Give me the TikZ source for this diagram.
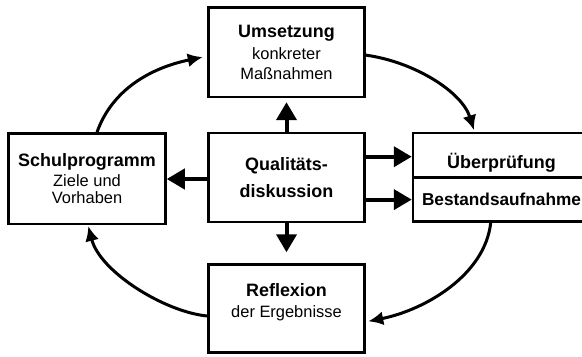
\documentclass[tikz,border=0pt]{standalone}
\usepackage{fontspec}
\setmainfont{Liberation Sans}
\usetikzlibrary{arrows.meta,calc}
\newcommand\boxtitle[1]{{\bfseries\fontsize{18}{20}\selectfont #1}}
\begin{document}
\begin{tikzpicture}[x=1bp,y=-1bp,
  box/.style={draw, line width=2.5bp, minimum width=156bp, inner sep=0pt,
    align=center, font=\fontsize{16.5}{20}\selectfont},
  sarrow/.style={line width=4bp, -{Triangle[length=18bp,width=20bp]}},
  carrow/.style={line width=3bp, -{Latex[length=15bp,width=14bp]}}]
\useasboundingbox (0,0) rectangle (582,356);
\clip (0,0) rectangle (582,356);

\node[box, minimum height=89.7bp] (um) at (286.5,52.1)
  {\boxtitle{Umsetzung}\\[2bp] konkreter\\ Maßnahmen};
\node[box, minimum height=89bp, font=\bfseries\fontsize{18}{27}\selectfont] (qd) at (286.5,177.5)
  {Qualitäts-\\ diskussion};
\node[box, minimum width=157bp, minimum height=90.3bp] (sp) at (87,178.6)
  {\boxtitle{Schulprogramm}\\ Ziele und\\[-3bp] Vorhaben};
\node[box, minimum width=177bp, minimum height=44.7bp] (ueb) at (501.5,155.3)
  {\raisebox{-7bp}[\height][\depth]{\boxtitle{Überprüfung}}};
\node[box, minimum width=177bp, minimum height=43.8bp] (best) at (501.5,199.6)
  {{\bfseries\fontsize{17.3}{20}\selectfont Bestandsaufnahme}};
\node[box, minimum height=88bp, text height=17bp, text depth=0pt] (ref) at (286.5,308.5)
  {\boxtitle{Reflexion}\\[1bp] der Ergebnisse};

% straight arrows from the centre
\draw[sarrow] (qd.north) -- ([yshift=-4bp]um.south);
\draw[sarrow] ([yshift=-1.5bp]qd.west) -- ([yshift=-1.5bp]qd.west -| sp.east);
\draw[sarrow] (qd.south) -- ([yshift=11bp]ref.north);
\draw[sarrow] ([yshift=-1.4bp]qd.east |- ueb.west) -- ([yshift=-1.4bp]ueb.west);
\draw[sarrow] (qd.east |- best.west) -- (best.west);

% cycle arrows
\draw[carrow] ([xshift=10bp]sp.north) .. controls (112,90) and (150,68) .. ([xshift=-4.5bp,yshift=-5bp]um.west);
\draw[carrow] ([yshift=-3bp]um.east) .. controls (415,62) and (462,92) .. ([xshift=-27.5bp,yshift=1.5bp]ueb.north);
\draw[carrow] ([xshift=-10.8bp]best.south) .. controls (485,275) and (425,310) .. ([xshift=2.5bp,yshift=-12.8bp]ref.east);
\draw[carrow] ([yshift=-7.5bp]ref.west) .. controls (165,312) and (100,272) .. ([xshift=1.3bp,yshift=-1bp]sp.south);
\end{tikzpicture}
\end{document}
